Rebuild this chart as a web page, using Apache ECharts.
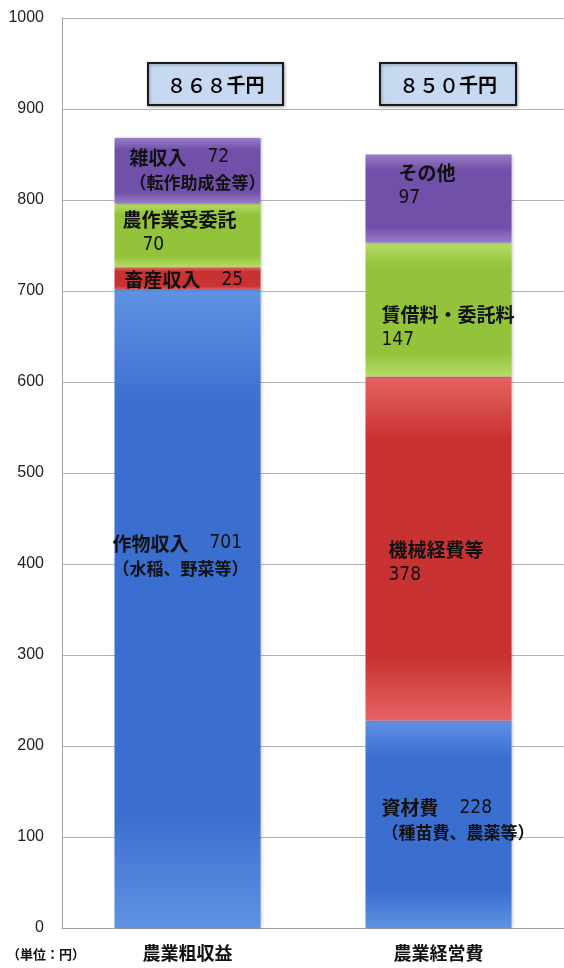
<!DOCTYPE html>
<html>
<head>
<meta charset="utf-8">
<script src="https://cdn.jsdelivr.net/npm/echarts@6/dist/echarts.min.js"></script>
<style>
  html, body { margin: 0; padding: 0; background: #fff; }
  #chart { width: 564px; height: 968px; }
</style>
</head>
<body>
<div id="chart"></div>
<script>
// Categories on the x axis
const categories = ['農業粗収益', '農業経営費'];

// Stacked segment values (千円), one array per stack level
const level1Values = [701, 228];
const level2Values = [25, 378];
const level3Values = [70, 147];
const level4Values = [72, 97];

// Segment names and optional second-line notes
const level1Names = ['作物収入', '資材費'];
const level2Names = ['畜産収入', '機械経費等'];
const level3Names = ['農作業受委託', '賃借料・委託料'];
const level4Names = ['雑収入', 'その他'];
const level1Notes = ['（水稲、野菜等）', '（種苗費、農薬等）'];
const level4Notes = ['（転作助成金等）', ''];

// Y axis ticks
const yMin = 0, yMax = 1000, yStep = 100;

const FONT_CJK = '"Noto Sans CJK JP", "Noto Sans", sans-serif';
const FONT_NUM = '"Liberation Sans Narrow", "DejaVu Sans Condensed", "Roboto Condensed", "Liberation Sans", sans-serif';

function grad(light, mid) {
  return new echarts.graphic.LinearGradient(0, 0, 0, 1, [
    { offset: 0, color: light },
    { offset: 0.18, color: mid },
    { offset: 0.82, color: mid },
    { offset: 1, color: light }
  ]);
}

const palette = [
  grad('#5f92e2', '#3a6fd0'),
  grad('#e46464', '#c93232'),
  grad('#b6dc68', '#93c33a'),
  grad('#9a7cc8', '#7050a8')
];

const rich = {
  n: { fontFamily: FONT_CJK, fontWeight: 'bold', fontSize: 19, color: '#111', lineHeight: 25 },
  s: { fontFamily: FONT_CJK, fontWeight: 'bold', fontSize: 17, color: '#111', lineHeight: 25 },
  v: { fontFamily: FONT_NUM, fontSize: 19, color: '#111', lineHeight: 25 },
  gap: { width: 21 },
  ind: { width: 20 }
};

// label text builders
function inlineText(name, value, note) {
  let s = '{n|' + name + '}{gap|}{v|' + value + '}';
  if (note) s += '\n{s|' + note + '}';
  return s;
}
function stackedText(name, value, indent) {
  return '{n|' + name + '}\n' + (indent ? '{ind|}' : '') + '{v|' + value + '}';
}

const labelOffsets = {
  l1: [[-7, -53], [11, -4]],
  l2: [[5, 1], [18, 14]],
  l3: [[3, -3], [11, 18]],
  l4: [[10, -1], [28, -13]]
};

function makeSeries(values, color, textFn, offsets) {
  return {
    type: 'bar',
    stack: 'total',
    barWidth: 146,
    itemStyle: {
      color: color,
      shadowColor: 'rgba(0,0,0,0.25)',
      shadowBlur: 3,
      shadowOffsetX: 1
    },
    data: values.map((v, i) => ({
      value: v,
      label: {
        show: true,
        position: 'insideLeft',
        offset: offsets[i],
        formatter: textFn(i),
        rich: rich
      }
    }))
  };
}

const series = [
  makeSeries(level1Values, palette[0], i => inlineText(level1Names[i], level1Values[i], level1Notes[i]), labelOffsets.l1),
  makeSeries(level2Values, palette[1], i => i === 0 ? inlineText(level2Names[i], level2Values[i]) : stackedText(level2Names[i], level2Values[i], false), labelOffsets.l2),
  makeSeries(level3Values, palette[2], i => stackedText(level3Names[i], level3Values[i], i === 0), labelOffsets.l3),
  makeSeries(level4Values, palette[3], i => i === 0 ? inlineText(level4Names[i], level4Values[i], level4Notes[i]) : stackedText(level4Names[i], level4Values[i], false), labelOffsets.l4)
];

// totals per category, written with full-width digits
const totals = categories.map((_, i) => level1Values[i] + level2Values[i] + level3Values[i] + level4Values[i]);
function toFullWidth(n) {
  return String(n).replace(/[0-9]/g, d => String.fromCharCode(d.charCodeAt(0) + 0xFEE0));
}

const boxes = [
  { x: 148, y: 63, w: 135, h: 42 },
  { x: 380, y: 63, w: 136, h: 42 }
];

const graphic = [];
boxes.forEach((b, i) => {
  graphic.push({
    type: 'rect',
    shape: { x: b.x, y: b.y, width: b.w, height: b.h },
    style: { fill: '#c6d9f1', stroke: '#1a1a1a', lineWidth: 2, shadowColor: 'rgba(0,0,0,0.3)', shadowBlur: 3, shadowOffsetX: 1, shadowOffsetY: 1 },
    z: 10
  });
  graphic.push({
    type: 'text',
    x: b.x + b.w / 2,
    y: b.y + b.h / 2 + 1,
    style: {
      text: '{d|' + toFullWidth(totals[i]) + '}{u|千円}',
      align: 'center',
      verticalAlign: 'middle',
      rich: {
        d: { fontFamily: FONT_CJK, fontSize: 20, fontWeight: 500, color: '#111' },
        u: { fontFamily: FONT_CJK, fontSize: 19, fontWeight: 'bold', color: '#111' }
      }
    },
    z: 11
  });
});
graphic.push({
  type: 'text',
  x: 7,
  y: 954,
  style: {
    text: '（単位：円）',
    fontFamily: FONT_CJK,
    fontSize: 13,
    fontWeight: 'bold',
    fill: '#111',
    verticalAlign: 'middle'
  }
});

const chart = echarts.init(document.getElementById('chart'), null, { renderer: 'canvas' });
chart.setOption({
  animation: false,
  backgroundColor: '#ffffff',
  grid: { left: 62, right: 0, top: 18, bottom: 40, containLabel: false },
  xAxis: {
    type: 'category',
    data: categories,
    axisTick: { show: false },
    axisLine: { show: true, lineStyle: { color: '#a0a0a0', width: 1 } },
    axisLabel: {
      margin: 16,
      fontFamily: FONT_CJK,
      fontSize: 18,
      fontWeight: 'bold',
      color: '#111'
    }
  },
  yAxis: {
    type: 'value',
    min: yMin,
    max: yMax,
    interval: yStep,
    axisLine: { show: true, lineStyle: { color: '#a0a0a0', width: 1 } },
    axisTick: { show: false },
    splitLine: { show: true, lineStyle: { color: '#b4b4b4', width: 1 } },
    axisLabel: {
      margin: 18,
      fontFamily: '"Liberation Sans", Arial, sans-serif',
      fontSize: 16,
      color: '#222',
      formatter: v => String(v)
    }
  },
  series: series,
  graphic: graphic
});
</script>
</body>
</html>
